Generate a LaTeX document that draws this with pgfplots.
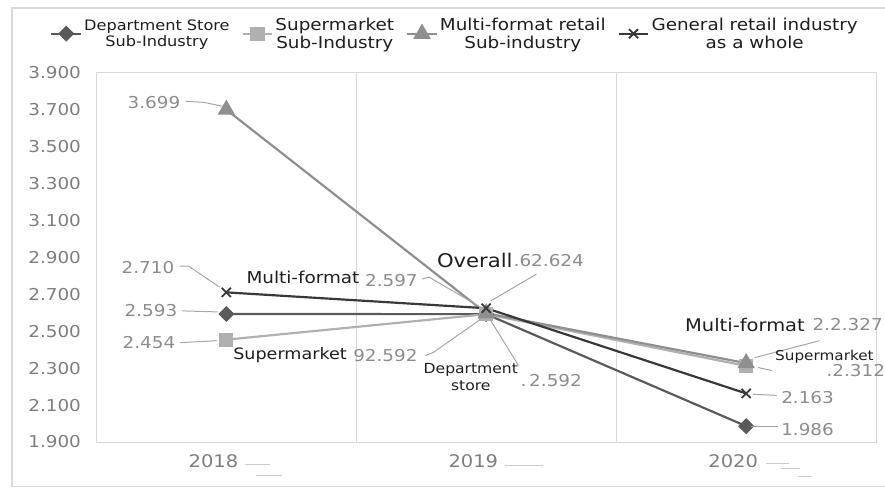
\documentclass[border=0pt]{standalone}
\usepackage{pgfplots}
\pgfplotsset{compat=1.18}
\usepackage{fontspec}
\setmainfont{DejaVu Sans}[FakeStretch=1.12]
\definecolor{cDept}{HTML}{5A5A5A}
\definecolor{cSup}{HTML}{B0B0B0}
\definecolor{cMul}{HTML}{8F8F8F}
\definecolor{cGen}{HTML}{383838}
\definecolor{valgray}{HTML}{8C8C8C}
\definecolor{tickgray}{HTML}{7E7E7E}
\definecolor{catblack}{HTML}{1E1E1E}
\begin{document}
\begin{tikzpicture}
\begin{scope}[x=1pt,y=-1pt,shift={(-97pt,445pt)}]
\useasboundingbox (0,0) rectangle (885,493);
\draw[black!15, line width=1.5pt] (12,490) -- (12,8) -- (900,8);
\draw[black!15, line width=1.5pt] (12,490) -- (900,490);
\end{scope}
\begin{axis}[
  at={(0pt,0pt)}, anchor=south west,
  scale only axis, width=785pt, height=372pt,
  xmin=-0.5, xmax=2.5, ymin=1.9, ymax=3.9,
  xtick={0,1,2}, xticklabels={2018,2019,2020},
  ytick={1.9,2.1,2.3,2.5,2.7,2.9,3.1,3.3,3.5,3.7,3.9},
  /pgf/number format/fixed, /pgf/number format/fixed zerofill,
  /pgf/number format/precision=3, /pgf/number format/assume math mode=true,
  yticklabel style={xshift=-12pt, font=\fontsize{16.5}{18}\selectfont, text=tickgray},
  xticklabel style={xshift=-13pt, yshift=-9pt, font=\fontsize{17.5}{19}\selectfont, text=tickgray},
  major tick length=0pt,
  axis line style={black!15, line width=1pt},
  extra x ticks={0.5,1.5}, extra x tick labels={},
  extra x tick style={grid=major, major grid style={black!15, line width=1pt}},
  clip=false,
  legend columns=4,
  legend style={at={(0.46,1.105)}, anchor=center, draw=none, fill=none,
    cells={align=center, text=catblack, inner sep=1pt},
    /tikz/every even column/.append style={column sep=10pt}},
  legend image code/.code={\draw[mark repeat=2,mark phase=2,#1] plot coordinates {(0pt,0pt) (15pt,0pt) (30pt,0pt)};},
]
\addplot[color=cDept, line width=2.2pt, mark=square*, mark size=4.6pt, mark options={fill=cDept, solid, rotate=45}]
  coordinates {(0,2.593) (1,2.592) (2,1.986)};
\addlegendentry[font=\fontsize{14.5}{15.5}\selectfont]{Department Store\\Sub-Industry}
\addplot[color=cSup, line width=2.2pt, mark=square*, mark size=6pt, mark options={fill=cSup, solid}]
  coordinates {(0,2.454) (1,2.592) (2,2.312)};
\addlegendentry[font=\fontsize{16.5}{18}\selectfont]{Supermarket\\Sub-Industry}
\addplot[color=cMul, line width=2.2pt, mark=triangle*, mark size=8pt, mark options={fill=cMul, solid}]
  coordinates {(0,3.699) (1,2.597) (2,2.327)};
\addlegendentry[font=\fontsize{16.5}{18}\selectfont]{Multi-format retail\\Sub-industry}
\addplot[color=cGen, line width=2.2pt, mark=x, mark size=6.5pt, mark options={solid, line width=1.8pt}]
  coordinates {(0,2.710) (1,2.624) (2,2.163)};
\addlegendentry[font=\fontsize{16.5}{18}\selectfont]{General retail industry\\as a whole}
\end{axis}
\begin{scope}[x=1pt,y=-1pt,shift={(-97pt,445pt)},
  val/.style={text=valgray, font=\fontsize{16.5}{18}\selectfont, inner sep=0pt},
  cat/.style={text=catblack, inner sep=0pt, align=center},
  lead/.style={draw=black!35, line width=1pt}]
% leader lines
\draw[lead] (187,102) -- (205,103) -- (224,107);
\draw[lead] (181,268) -- (190,268) -- (221,289);
\draw[lead] (183,313) -- (219,314);
\draw[lead] (181,345) -- (218,343);
\draw[lead] (425,281) -- (432,279) -- (485,310);
\draw[lead] (540,276) -- (494,303);
\draw[lead] (428,358) -- (436,355) -- (483,322);
\draw[lead] (522,368) -- (493,321);
\draw[lead] (825,343) -- (760,360);
\draw[lead] (763,370) -- (777,373);
\draw[lead] (758,397) -- (782,398);
\draw[lead] (756,429) -- (783,429);
% value labels
\node[val] at (155,103) {3.699};
\node[val] at (149,269) {2.710};
\node[val] at (152,313) {2.593};
\node[val] at (150,345) {2.454};
\node[val] at (394,282) {2.597};
\node[val, anchor=west] at (517,262) {.62.624};
\node[val] at (388,358) {92.592};
\node[val, anchor=west] at (524,383) {.\,2.592};
\node[val, anchor=west] at (818,327) {2.2.327};
\node[val, anchor=west] at (832,373) {.2.312};
\node[val] at (813,400) {2.163};
\node[val] at (813,432) {1.986};
% category labels
\node[cat, font=\fontsize{16.5}{18}\selectfont] at (305,279) {Multi-format};
\node[cat, font=\fontsize{19}{21}\selectfont] at (478,262) {Overall};
\node[cat, font=\fontsize{15.8}{18}\selectfont] at (292,358) {Supermarket};
\node[cat, font=\fontsize{14}{17}\selectfont] at (474,380) {Department\\store};
\node[cat, font=\fontsize{17.5}{19}\selectfont] at (750,327) {Multi-format};
\node[cat, font=\fontsize{13.7}{15}\selectfont] at (830,359) {Supermarket};
% faint marks after year labels
\draw[black!20, line width=1pt] (247,468) -- (272,468) (258,479) -- (284,479);
\draw[black!20, line width=1pt] (508,469) -- (547,469);
\draw[black!20, line width=1pt] (771,467) -- (794,467) (786,472) -- (805,472) (803,480) -- (817,480);
\end{scope}
\end{tikzpicture}
\end{document}
